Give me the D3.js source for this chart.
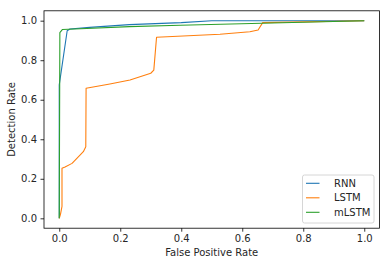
<!DOCTYPE html>
<html>
<head>
<meta charset="utf-8">
<script src="https://cdn.jsdelivr.net/npm/d3@7"></script>
<style>
  body { margin: 0; background: #fff; }
  text { font-family: "DejaVu Sans", sans-serif; fill: #262626; }
</style>
</head>
<body>
<div id="chart"></div>
<script>
// ROC points: [false positive rate, detection rate]
const rnn = [[0, 0], [0, 0.675], [0.026, 0.949], [0.035, 0.958], [0.1, 0.966], [0.23, 0.98],
             [0.4, 0.99], [0.5, 1.0], [1.0, 1.0]]
const lstm = [[0, 0], [0.004, 0.02], [0.009, 0.06], [0.009, 0.253], [0.019, 0.26], [0.042, 0.278],
              [0.079, 0.337], [0.087, 0.362], [0.088, 0.658], [0.166, 0.68], [0.232, 0.70],
              [0.30, 0.734], [0.31, 0.75], [0.319, 0.916], [0.527, 0.931], [0.625, 0.944],
              [0.652, 0.953], [0.667, 0.99], [1.0, 1.0]]
const mlstm = [[0, 0], [0.002, 0.94], [0.01, 0.955], [0.05, 0.958], [0.23, 0.97], [0.396, 0.977],
               [0.664, 0.987], [1.0, 1.0]]

const seriesNames = ["RNN", "LSTM", "mLSTM"]
const seriesData = [rnn, lstm, mlstm]
const ticks = [0, 0.2, 0.4, 0.6, 0.8, 1.0]

const margin = { top: 10.8, left: 44, right: 9.5, bottom: 37.8 },
      width = 389 - margin.left - margin.right,
      height = 266 - margin.top - margin.bottom;

const color = d3.scaleOrdinal()
  .domain(seriesNames)
  .range(["#1f77b4", "#ff7f0e", "#2ca02c"])

const svg = d3.select("#chart")
  .append("svg")
  .attr("width", 389)
  .attr("height", 266)

const plot = svg.append("g")
  .attr("transform", "translate(" + margin.left + "," + margin.top + ")")

const x = d3.scaleLinear().domain([-0.05, 1.05]).range([0, width])
const y = d3.scaleLinear().domain([-0.05, 1.05]).range([height, 0])

const xAxis = plot.append("g")
  .attr("transform", "translate(0," + height + ")")
  .call(d3.axisBottom(x).tickValues(ticks).tickFormat(d3.format(".1f")).tickSize(3.5).tickPadding(3.5))
const yAxis = plot.append("g")
  .call(d3.axisLeft(y).tickValues(ticks).tickFormat(d3.format(".1f")).tickSize(3.5).tickPadding(3.5))

xAxis.select(".domain").remove()
yAxis.select(".domain").remove()
plot.selectAll(".tick line").attr("stroke", "#000").attr("stroke-width", 0.8)
plot.selectAll(".tick text")
  .style("font-family", "DejaVu Sans")
  .style("font-size", "10px")
  .attr("fill", "#262626")

const line = d3.line()
  .x(function(d) { return x(d[0]) })
  .y(function(d) { return y(d[1]) })

plot.selectAll(".roc")
  .data(seriesData)
  .enter()
  .append("path")
    .attr("class", "roc")
    .attr("fill", "none")
    .attr("stroke", function(d, i) { return color(seriesNames[i]) })
    .attr("stroke-width", 1.1)
    .attr("stroke-linejoin", "round")
    .attr("d", line)

// frame
plot.append("rect")
  .attr("width", width)
  .attr("height", height)
  .attr("fill", "none")
  .attr("stroke", "#000")
  .attr("stroke-width", 0.8)

svg.append("text")
  .attr("x", margin.left + width / 2)
  .attr("y", 256)
  .attr("text-anchor", "middle")
  .style("font-size", "10px")
  .text("False Positive Rate")

svg.append("text")
  .attr("transform", "translate(15," + (margin.top + height / 2) + ") rotate(-90)")
  .attr("text-anchor", "middle")
  .style("font-size", "10px")
  .text("Detection Rate")

// legend
const legend = svg.append("g").attr("transform", "translate(302.5,175)")
legend.append("rect")
  .attr("width", 71.5)
  .attr("height", 48)
  .attr("rx", 2)
  .attr("fill", "#fff")
  .attr("fill-opacity", 0.8)
  .attr("stroke", "#ccc")
  .attr("stroke-width", 0.8)

const items = legend.selectAll(".item")
  .data(seriesNames)
  .enter()
  .append("g")
  .attr("transform", function(d, i) { return "translate(0," + (8.3 + i * 14.5) + ")" })

items.append("line")
  .attr("x1", 3.5).attr("x2", 17)
  .attr("stroke", function(d) { return color(d) })
  .attr("stroke-width", 1.1)

items.append("text")
  .attr("x", 31.5)
  .attr("dy", "0.35em")
  .style("font-size", "10px")
  .text(function(d) { return d })
</script>
</body>
</html>
